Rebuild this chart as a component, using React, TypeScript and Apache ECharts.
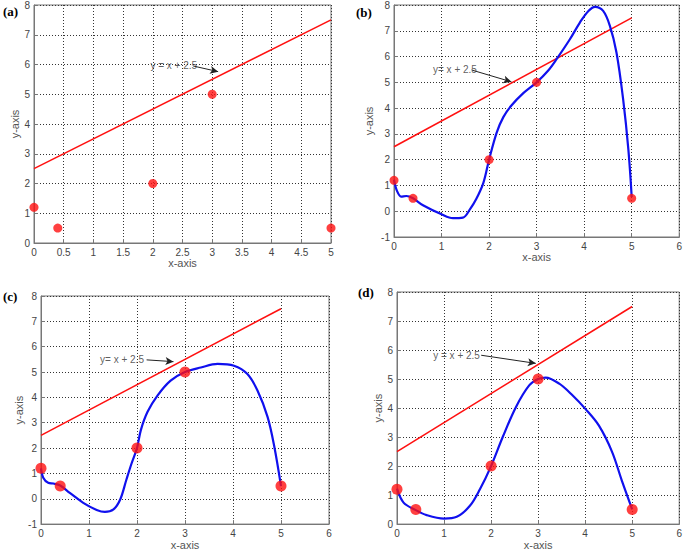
import React, { useEffect, useRef } from "react";
import * as echarts from "echarts";

// Data points (same in all panels)
const pointsX = [0, 0.4, 2, 3, 5];
const pointsY = [1.2, 0.5, 2, 5, 0.5];

// Line y = x + 2.5
const lineX = [0, 5];
const lineY = [2.5, 7.5];

// Blue interpolating curves
const curveB: number[][] = [
  [0, 1.22], [0.06, 0.8], [0.15, 0.57], [0.26, 0.59], [0.4, 0.5], [0.61, 0.23], [1.0, -0.12],
  [1.24, -0.27], [1.45, -0.25], [1.6, 0.08], [1.73, 0.47], [1.88, 1.1], [2, 2], [2.16, 3.05],
  [2.3, 3.65], [2.47, 4.1], [2.72, 4.58], [3, 5], [3.24, 5.45], [3.42, 5.9], [3.7, 6.67],
  [3.91, 7.32], [4.09, 7.77], [4.23, 7.93], [4.4, 7.77], [4.54, 7.2], [4.68, 6.16],
  [4.82, 4.35], [4.93, 2.4], [5, 0.55],
];
const curveC: number[][] = [
  [0, 1.2], [0.05, 0.82], [0.15, 0.63], [0.26, 0.6], [0.4, 0.52], [0.6, 0.23], [0.88, -0.16],
  [1.16, -0.44], [1.33, -0.52], [1.51, -0.42], [1.65, -0.03], [1.78, 0.76], [1.89, 1.41],
  [2, 2], [2.08, 2.71], [2.22, 3.43], [2.43, 4.08], [2.7, 4.66], [3, 5], [3.33, 5.18],
  [3.68, 5.32], [4.02, 5.25], [4.3, 4.92], [4.51, 4.27], [4.72, 3.23], [4.86, 2.06], [5, 0.5],
];
const curveD: number[][] = [
  [0, 1.22], [0.14, 0.74], [0.39, 0.49], [0.63, 0.31], [1.0, 0.19], [1.27, 0.25], [1.55, 0.63],
  [1.76, 1.19], [2, 2], [2.25, 3.01], [2.53, 4.04], [2.81, 4.78], [3, 5], [3.16, 5.05],
  [3.45, 4.84], [3.73, 4.44], [4, 3.98], [4.29, 3.4], [4.57, 2.5], [4.78, 1.5], [5, 0.51],
];

// Annotations: text anchor, arrow start, arrow tip
const annText = ["y = x + 2.5", "y= x + 2.5", "y= x + 2.5", "y = x + 2.5"];
const annAnchor = [[1.96, 5.95], [0.82, 5.48], [1.23, 5.48], [0.77, 5.82]];
const annArrowFrom = [[2.68, 5.95], [1.63, 5.48], [2.2, 5.48], [1.79, 5.82]];
const annArrowTo = [[3.1, 5.76], [2.47, 5.02], [2.76, 5.41], [2.95, 5.54]];

const panelLabels = ["(a)", "(b)", "(c)", "(d)"];

const FONT = "'Liberation Sans', Arial, sans-serif";

export default function App() {
  const ref = useRef<HTMLDivElement>(null);
  useEffect(() => {
    if (!ref.current) return;
    const chart = echarts.init(ref.current, null, { renderer: "svg" });

    const grids = [
      { left: 34, top: 5, width: 297, height: 238 },
      { left: 394, top: 5, width: 286, height: 232 },
      { left: 41, top: 296, width: 288, height: 230 },
      { left: 397, top: 292, width: 284, height: 233 },
    ];
    const xRanges = [
      { min: 0, max: 5, interval: 0.5 },
      { min: 0, max: 6, interval: 1 },
      { min: 0, max: 6, interval: 1 },
      { min: 0, max: 6, interval: 1 },
    ];
    const yRanges = [
      { min: 0, max: 8, interval: 1 },
      { min: -1, max: 8, interval: 1 },
      { min: -1, max: 8, interval: 1 },
      { min: 0, max: 8, interval: 1 },
    ];
    const yNameGap = [14, 20, 14, 14];
    const curves = [null, curveB, curveC, curveD];
    const markerSize = [9, 9, 11, 11];

    const axisCommon = {
      axisLine: { show: true, onZero: false, lineStyle: { color: "#777", width: 1 } },
      axisTick: { show: true, inside: true, length: 4, lineStyle: { color: "#777" } },
      axisLabel: { color: "#444", fontSize: 10, fontFamily: FONT, margin: 4 },
      splitLine: { show: true, lineStyle: { color: "#333", type: [1, 2], width: 1 } },
      nameTextStyle: { color: "#555", fontSize: 11, fontFamily: FONT },
      nameLocation: "middle" as const,
    };

    const xAxis = grids.map((_, i) => ({
      type: "value",
      gridIndex: i,
      ...xRanges[i],
      name: "x-axis",
      nameGap: 14,
      ...axisCommon,
    }));
    const yAxis = grids.map((_, i) => ({
      type: "value",
      gridIndex: i,
      ...yRanges[i],
      name: "y-axis",
      nameGap: yNameGap[i],
      ...axisCommon,
    }));

    const series: any[] = [];
    grids.forEach((_, i) => {
      series.push({
        type: "line",
        xAxisIndex: i,
        yAxisIndex: i,
        data: lineX.map((x, k) => [x, lineY[k]]),
        symbol: "none",
        lineStyle: { color: "#ff1010", width: 1.6 },
        z: 3,
      });
      const c = curves[i];
      if (c) {
        series.push({
          type: "line",
          xAxisIndex: i,
          yAxisIndex: i,
          data: c,
          smooth: 0.35,
          symbol: "none",
          lineStyle: { color: "#1010ee", width: 2.2 },
          z: 4,
        });
      }
      series.push({
        type: "scatter",
        xAxisIndex: i,
        yAxisIndex: i,
        data: pointsX.map((x, k) => [x, pointsY[k]]),
        symbol: "circle",
        symbolSize: markerSize[i],
        itemStyle: { color: "#ff1010" },
        z: 5,
      });
      series.push({
        type: "scatter",
        xAxisIndex: i,
        yAxisIndex: i,
        data: [annAnchor[i]],
        symbolSize: 0,
        silent: true,
        label: {
          show: true,
          position: "right",
          distance: 0,
          formatter: annText[i],
          color: "#333",
          fontSize: 10,
          fontFamily: FONT,
        },
        markLine: {
          silent: true,
          symbol: ["none", "arrow"],
          symbolSize: [6, 8],
          label: { show: false },
          lineStyle: { color: "#222", width: 1, type: "solid" },
          data: [[{ coord: annArrowFrom[i] }, { coord: annArrowTo[i] }]],
        },
        z: 6,
      });
    });

    const labelPos = [
      [3, 5],
      [356, 6],
      [3, 290],
      [358, 286],
    ];

    chart.setOption({
      animation: false,
      backgroundColor: "#fff",
      grid: grids.map((g) => ({ ...g, show: true, borderColor: "#777", borderWidth: 1, backgroundColor: "transparent" })),
      xAxis,
      yAxis,
      series,
      graphic: panelLabels.map((t, i) => ({
        type: "text",
        left: labelPos[i][0],
        top: labelPos[i][1],
        style: {
          text: t,
          font: "bold 13px 'Liberation Serif', 'Times New Roman', serif",
          fill: "#000",
        },
      })),
    });
    return () => chart.dispose();
  }, []);
  return (
    <div
      ref={ref}
      style={{ position: "fixed", left: 0, top: 0, width: 685, height: 551 }}
    />
  );
}
